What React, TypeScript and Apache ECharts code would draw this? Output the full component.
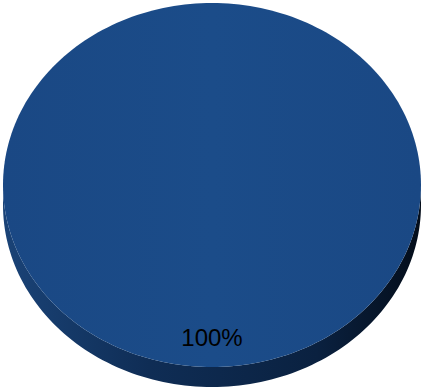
import React, { useEffect, useRef } from "react";
import * as echarts from "echarts";

const categories = ["Total"];
const values = [100];
const sliceColors = ["#1b4c89"];

export default function App() {
  const ref = useRef<HTMLDivElement>(null);
  useEffect(() => {
    if (!ref.current) return;
    const chart = echarts.init(ref.current, undefined, { renderer: "svg" });
    const total = values.reduce((a, b) => a + b, 0);
    const data = values.map((v, i) => ({ name: categories[i], value: v }));
    const cum: number[] = [];
    let acc = 0;
    values.forEach((v) => { cum.push(acc); acc += v; });

    const cx = 212, cy = 185, rx = 209, ry = 182, depth = 20;

    chart.setOption({
      animation: false,
      series: [
        {
          type: "custom",
          coordinateSystem: "none",
          data,
          renderItem: (params: any, api: any) => {
            const i = params.dataIndex;
            const v = api.value(0) as number;
            const start = -Math.PI / 2 + (cum[i] / total) * Math.PI * 2;
            const end = start + (v / total) * Math.PI * 2;
            const N = 240;
            const full = end - start >= Math.PI * 2 - 1e-6;
            const top: number[][] = [];
            if (!full) top.push([cx, cy]);
            for (let k = 0; k <= N; k++) {
              const t = start + ((end - start) * k) / N;
              top.push([cx + rx * Math.cos(t), cy + ry * Math.sin(t)]);
            }
            const sideTop: number[][] = [];
            for (let k = 0; k <= N; k++) {
              const t = start + ((end - start) * k) / N;
              const tt = ((t % (2 * Math.PI)) + 2 * Math.PI) % (2 * Math.PI);
              if (tt >= 0 && tt <= Math.PI) sideTop.push([cx + rx * Math.cos(t), cy + ry * Math.sin(t)]);
            }
            sideTop.sort((a, b) => a[0] - b[0]);
            const side = sideTop.concat(sideTop.slice().reverse().map((p) => [p[0], p[1] + depth]));
            const mid = (start + end) / 2;
            const pct = Math.round((v / total) * 100) + "%";
            const lx = full ? cx : cx + rx * 0.6 * Math.cos(mid);
            const ly = full ? cy + ry * 0.84 : cy + ry * 0.6 * Math.sin(mid);
            return {
              type: "group",
              children: [
                {
                  type: "polygon",
                  shape: { points: side },
                  style: {
                    fill: new echarts.graphic.LinearGradient(0, 0, 1, 0, [
                      { offset: 0, color: "#1a4377" },
                      { offset: 0.35, color: "#0f2d55" },
                      { offset: 0.75, color: "#0a2140" },
                      { offset: 1, color: "#040d1a" },
                    ]),
                  },
                },
                {
                  type: "polygon",
                  shape: { points: top },
                  style: {
                    fill: new echarts.graphic.LinearGradient(0, 0, 1, 0, [
                      { offset: 0, color: "#1a4884" },
                      { offset: 0.5, color: sliceColors[i % sliceColors.length] },
                      { offset: 1, color: "#1a4884" },
                    ]),
                  },
                },
                {
                  type: "text",
                  style: {
                    text: pct,
                    x: lx,
                    y: ly,
                    align: "center",
                    verticalAlign: "middle",
                    fill: "#000000",
                    font: "24px 'Liberation Sans', Arial, sans-serif",
                  },
                },
              ],
            };
          },
        },
      ],
    });
    return () => chart.dispose();
  }, []);
  return (
    <div
      ref={ref}
      style={{ position: "fixed", left: 0, top: 0, width: 423, height: 391, background: "#ffffff" }}
    />
  );
}
